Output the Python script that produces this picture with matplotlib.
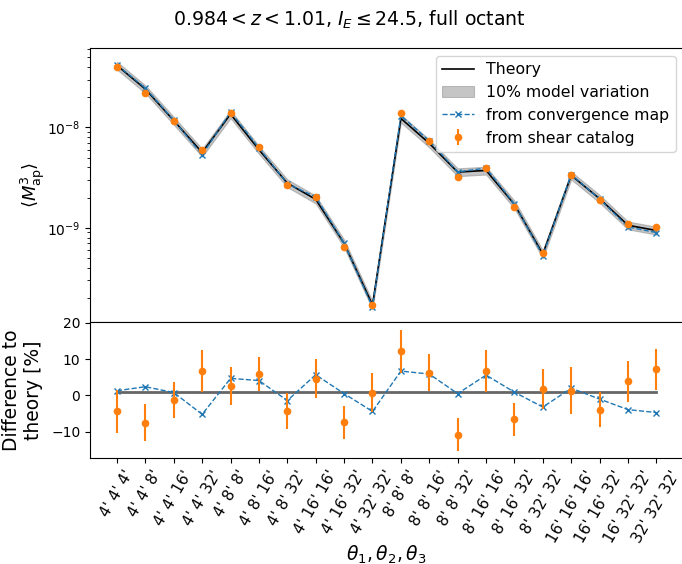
import numpy as np
import matplotlib
matplotlib.use("Agg")
import matplotlib.pyplot as plt

# aperture radii combinations
labels = ["4' 4' 4'", "4' 4' 8'", "4' 4' 16'", "4' 4' 32'", "4' 8' 8'",
          "4' 8' 16'", "4' 8' 32'", "4' 16' 16'", "4' 16' 32'", "4' 32' 32'",
          "8' 8' 8'", "8' 8' 16'", "8' 8' 32'", "8' 16' 16'", "8' 16' 32'",
          "8' 32' 32'", "16' 16' 16'", "16' 16' 32'", "16' 32' 32'", "32' 32' 32'"]

# theory <Map^3>
theory = [4.15e-8, 2.41e-8, 1.17e-8, 5.62e-9, 1.36e-8, 6.0e-9, 2.79e-9, 1.92e-9, 7.0e-10, 1.70e-10,
          1.23e-8, 6.95e-9, 3.59e-9, 3.73e-9, 1.71e-9, 5.47e-10, 3.33e-9, 1.95e-9, 1.06e-9, 9.4e-10]

# difference to theory [%]
diff_kappa = [1.3, 2.4, 0.8, -5.2, 4.7, 4.1, -1.4, 5.7, 0.5, -4.4,
              6.7, 5.9, 0.5, 5.6, 0.9, -3.2, 2.0, -1.0, -3.9, -4.7]
diff_shear = [-4.4, -7.5, -1.3, 6.7, 2.7, 6.0, -4.3, 4.6, -7.4, 0.8,
              12.1, 6.3, -10.8, 6.7, -6.6, 1.8, 1.3, -3.9, 3.9, 7.2]
err_shear = [5.9, 5.1, 5.0, 5.8, 5.2, 4.7, 4.9, 5.3, 4.5, 5.3,
             5.9, 5.1, 4.6, 5.8, 4.6, 5.4, 6.5, 4.8, 5.6, 5.6]

model_var = 0.09

theory = np.array(theory)
x = np.arange(len(labels))
kappa = theory * (1 + np.array(diff_kappa) / 100)
shear = theory * (1 + np.array(diff_shear) / 100)
shear_err = theory * np.array(err_shear) / 100

plt.rcParams["font.size"] = 10

fig = plt.figure(figsize=(6.82, 5.64), dpi=100)
ax1 = fig.add_axes([0.132, 0.429, 0.87, 0.486])
ax2 = fig.add_axes([0.132, 0.188, 0.87, 0.241], sharex=ax1)

ax1.plot(x, theory, color="k", lw=1.2, label="Theory")
ax1.fill_between(x, theory * (1 - model_var), theory * (1 + model_var),
                 color="gray", alpha=0.45, lw=0.8, label="10% model variation")
ax1.plot(x, kappa, "--x", color="C0", lw=1, ms=4, label="from convergence map")
ax1.errorbar(x, shear, yerr=shear_err, fmt="o", color="C1", ms=4.5, elinewidth=1.5,
             label="from shear catalog")
ax1.set_yscale("log")
ax1.set_ylim(1.15e-10, 6.2e-8)
ax1.set_ylabel(r"$\langle M_\mathrm{ap}^3 \rangle$", fontsize=13, labelpad=0)
ax1.tick_params(axis="x", bottom=False, labelbottom=False)
ax1.legend(loc="upper right", fontsize=11.3)

ax2.plot(x, np.ones(len(x)), color="0.4", lw=2)
ax2.plot(x, diff_kappa, "--x", color="C0", lw=1, ms=4)
ax2.errorbar(x, diff_shear, yerr=err_shear, fmt="o", color="C1", ms=4.5, elinewidth=1.5)
ax2.set_ylim(-17.2, 20.2)
ax2.set_xticks(x)
ax2.set_xticklabels(labels, rotation=60, fontsize=11)
ax2.set_ylabel("Difference to\ntheory [%]", fontsize=13.5, labelpad=6)
ax2.set_xlabel(r"$\theta_1, \theta_2, \theta_3$", fontsize=13.5, labelpad=-1)

fig.suptitle(r"$0.984 < z < 1.01$, $I_E \leq 24.5$, full octant", fontsize=13.6,
             x=0.513, y=0.985)

fig.savefig("out.png", dpi=100)
